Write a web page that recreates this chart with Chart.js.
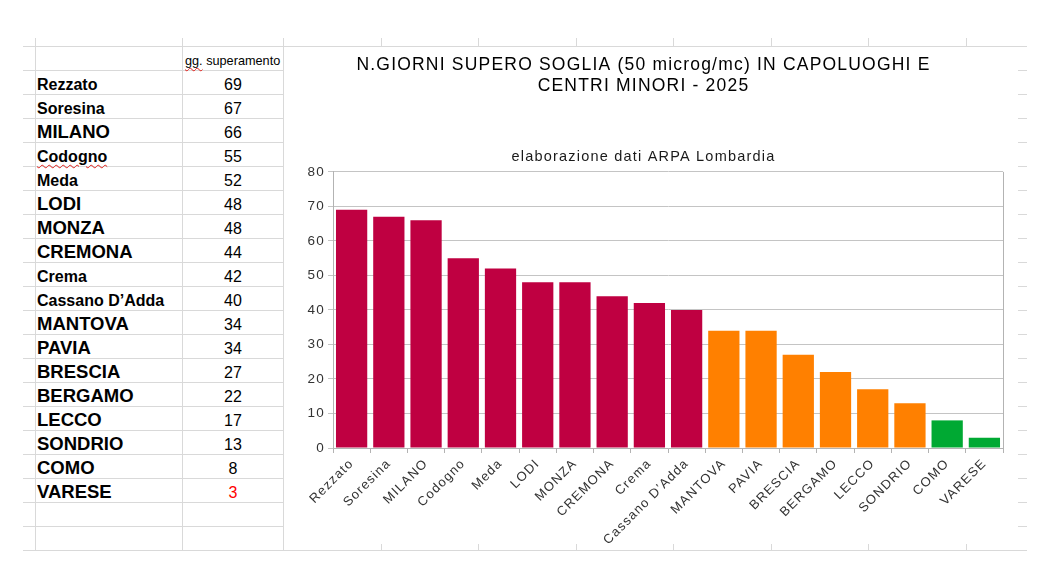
<!DOCTYPE html>
<html lang="it">
<head>
<meta charset="UTF-8">
<title>Giorni supero soglia PM10 - 2025</title>
<script src="https://cdn.jsdelivr.net/npm/chart.js"></script>
<style>
  html, body { margin: 0; padding: 0; background: #fff; }
  body { width: 1052px; height: 567px; position: relative; overflow: hidden; font-family: "Liberation Sans", Arial, sans-serif; }
  .hl { position: absolute; height: 1px; background: #d9d9d9; }
  .vl { position: absolute; width: 1px; background: #d9d9d9; }
  .cell { position: absolute; height: 24px; box-sizing: border-box; padding-bottom: 2px; display: flex; align-items: flex-end; line-height: 1; white-space: nowrap; color: #000; }
  .nome { left: 37px; font-weight: bold; }
  .val { left: 183px; width: 100px; justify-content: center; font-size: 16px; }
  .spell { text-decoration: underline wavy #e0201b; text-decoration-thickness: 1px; text-underline-offset: 2px; }
  #grafico { position: absolute; left: 284px; top: 47px; width: 734px; height: 497px; background: #fff; }
</style>
</head>
<body>
<div id="foglio"></div>
<div id="grafico"><canvas id="chartGiorni"></canvas></div>
<script>
// dati (elaborazione ARPA Lombardia)
const citta = ['Rezzato', 'Soresina', 'MILANO', 'Codogno', 'Meda', 'LODI', 'MONZA', 'CREMONA', 'Crema',
  'Cassano D\u2019Adda', 'MANTOVA', 'PAVIA', 'BRESCIA', 'BERGAMO', 'LECCO', 'SONDRIO', 'COMO', 'VARESE'];
const giorni = [69, 67, 66, 55, 52, 48, 48, 44, 42, 40, 34, 34, 27, 22, 17, 13, 8, 3];
const yMin = 0;
const yMax = 80;
const yPasso = 10;
const intestazione = 'gg. superamento';
const titolo = ['N.GIORNI SUPERO SOGLIA (50 microg/mc) IN CAPOLUOGHI E', 'CENTRI MINORI - 2025'];
const sottotitolo = 'elaborazione dati ARPA Lombardia';

function coloreBarra(v) {
  if (v > 35) return '#BF0041';
  if (v >= 10) return '#FF8000';
  return '#00A933';
}

// griglia del foglio di calcolo + tabella a sinistra
const foglio = document.getElementById('foglio');
function linea(cls, x, y, lung) {
  const d = document.createElement('div');
  d.className = cls;
  d.style.left = x + 'px';
  d.style.top = y + 'px';
  if (cls === 'hl') d.style.width = lung + 'px'; else d.style.height = lung + 'px';
  foglio.appendChild(d);
}
linea('hl', 23, 46, 1004);
for (let k = 0; k <= citta.length + 2; k++) linea('hl', 23, 70 + 24 * k, 1004);
[35, 182, 283, 381, 478, 576, 673, 771, 868, 966].forEach(x => linea('vl', x, 38, 513));

const head = document.createElement('div');
head.className = 'cell';
head.style.left = '185px';
head.style.top = '46px';
head.style.fontSize = '12.7px';
head.innerHTML = '<span class="spell">gg.</span>&nbsp;superamento';
foglio.appendChild(head);

const minimo = Math.min(...giorni);
citta.forEach((c, i) => {
  const top = 71 + 24 * i;
  const n = document.createElement('div');
  n.className = 'cell nome';
  n.style.top = top + 'px';
  n.style.fontSize = (c === c.toUpperCase() ? 18.5 : 16) + 'px';
  n.textContent = c;
  if (c === 'Codogno') n.innerHTML = '<span class="spell">' + c + '</span>';
  foglio.appendChild(n);
  const v = document.createElement('div');
  v.className = 'cell val';
  v.style.top = top + 'px';
  v.textContent = giorni[i];
  if (giorni[i] === minimo) v.style.color = '#ff0000';
  foglio.appendChild(v);
});

// testo del grafico un po' piu' largo, come nell'originale
const spaziatura = {
  id: 'spaziatura',
  beforeUpdate(chart) { chart.ctx.letterSpacing = '1.2px'; },
  beforeDraw(chart) { chart.ctx.letterSpacing = '1.2px'; }
};

// bordo destro dell'area del grafico
const cornice = {
  id: 'cornice',
  afterDraw(chart) {
    const a = chart.chartArea, ctx = chart.ctx;
    ctx.save();
    ctx.strokeStyle = '#b3b3b3';
    ctx.lineWidth = 1;
    ctx.beginPath();
    ctx.moveTo(a.right + 0.5, a.top);
    ctx.lineTo(a.right + 0.5, a.bottom);
    ctx.stroke();
    ctx.restore();
  }
};

const ctx = document.getElementById('chartGiorni').getContext('2d');
new Chart(ctx, {
  type: 'bar',
  data: {
    labels: citta,
    datasets: [{
      data: giorni,
      backgroundColor: giorni.map(coloreBarra),
      borderWidth: 0,
      barPercentage: 0.84,
      categoryPercentage: 1.0
    }]
  },
  options: {
    responsive: true,
    maintainAspectRatio: false,
    animation: false,
    layout: { padding: { left: 0, right: 15, top: 0, bottom: 0 } },
    plugins: {
      legend: { display: false },
      tooltip: { enabled: false },
      title: {
        display: true,
        text: titolo,
        color: '#000',
        font: { family: 'Liberation Sans', size: 17.5, weight: 'normal', lineHeight: 1.2 },
        padding: { top: 7.5, bottom: 52 }
      },
      subtitle: {
        display: true,
        text: sottotitolo,
        color: '#1a1a1a',
        font: { family: 'Liberation Sans', size: 14.5, lineHeight: 1.2 },
        padding: { top: 0, bottom: 6 }
      }
    },
    scales: {
      x: {
        grid: { drawOnChartArea: false, drawTicks: true, tickLength: 5, color: '#b3b3b3' },
        border: { color: '#b3b3b3' },
        ticks: {
          color: '#333',
          font: { family: 'Liberation Sans', size: 13 },
          minRotation: 45,
          maxRotation: 45,
          autoSkip: false,
          padding: 3
        },
        afterFit(scale) { scale.height = 96; }
      },
      y: {
        min: yMin,
        max: yMax,
        grid: { color: '#c4c4c4', tickLength: 5 },
        border: { color: '#b3b3b3' },
        ticks: {
          stepSize: yPasso,
          color: '#333',
          font: { family: 'Liberation Sans', size: 13.5 },
          padding: 3
        },
        afterFit(scale) { scale.width = 49; }
      }
    }
  },
  plugins: [spaziatura, cornice]
});
</script>
</body>
</html>
